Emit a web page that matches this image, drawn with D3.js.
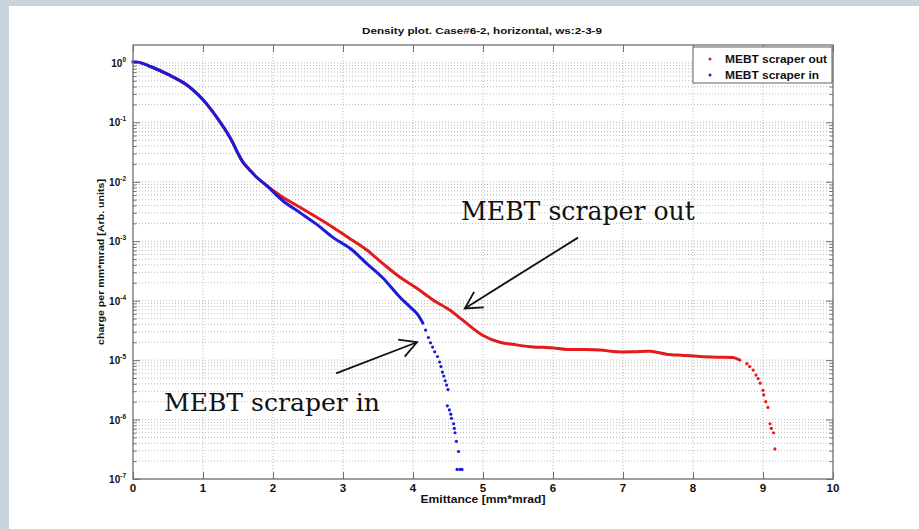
<!DOCTYPE html>
<html>
<head>
<meta charset="utf-8">
<script src="https://cdn.jsdelivr.net/npm/d3@7"></script>
<style>
  html, body { margin: 0; padding: 0; background: #c9d3dc; }
  svg { display: block; }
</style>
</head>
<body>
<svg id="chart" width="919" height="529"></svg>
<script>
// ---- data: charge density vs emittance ----------------------------------
// "MEBT scraper out" (red): densely sampled trace, then the sparse cut-off tail
const outTraceEmit   = [0, 0.1, 0.25, 0.5, 0.75, 1.0, 1.2, 1.4, 1.5, 1.57, 1.67, 1.77, 1.91,
                        2.14, 2.39, 2.63, 2.86, 3.1, 3.34, 3.57, 3.81, 4.06, 4.29, 4.53, 4.71,
                        5.0, 5.24, 5.48, 5.72, 5.96, 6.2, 6.43, 6.67, 6.91, 7.15, 7.39, 7.62,
                        7.86, 8.1, 8.34, 8.58, 8.67];
const outTraceCharge = [1.04, 1.01, 0.87, 0.64, 0.44, 0.24, 0.12, 0.052, 0.030, 0.0215, 0.0157, 0.0118, 0.0086,
                        0.0055, 0.0037, 0.0025, 0.0017, 0.0011, 7.1e-4, 4.2e-4, 2.5e-4, 1.6e-4, 1.02e-4, 6.9e-5, 4.7e-5,
                        2.6e-5, 2.0e-5, 1.8e-5, 1.66e-5, 1.62e-5, 1.51e-5, 1.51e-5, 1.48e-5, 1.38e-5, 1.38e-5, 1.41e-5, 1.26e-5,
                        1.2e-5, 1.15e-5, 1.12e-5, 1.1e-5, 1.0e-5];
const outTailEmit    = [8.77, 8.81, 8.86, 8.90, 8.93, 8.96, 9.0, 9.01, 9.04, 9.07, 9.10, 9.12, 9.15, 9.17];
const outTailCharge  = [8.7e-6, 7.8e-6, 6.8e-6, 5.6e-6, 4.9e-6, 4.1e-6, 3.1e-6, 2.6e-6, 2.0e-6, 1.6e-6,
                        8.5e-7, 7.1e-7, 6.0e-7, 3.2e-7];

// "MEBT scraper in" (blue)
const inTraceEmit    = [0, 0.1, 0.25, 0.5, 0.75, 1.0, 1.2, 1.4, 1.5, 1.57, 1.67, 1.77, 1.91,
                        2.14, 2.39, 2.63, 2.86, 3.1, 3.34, 3.57, 3.81, 3.96, 4.06, 4.14];
const inTraceCharge  = [1.04, 1.01, 0.87, 0.64, 0.44, 0.24, 0.12, 0.052, 0.030, 0.0215, 0.0157, 0.0118, 0.0086,
                        0.0048, 0.0030, 0.0019, 0.00115, 7.6e-4, 4.2e-4, 2.4e-4, 1.15e-4, 7.8e-5, 6.0e-5, 4.2e-5];
const inTailEmit     = [4.18, 4.22, 4.25, 4.28, 4.31, 4.35, 4.38, 4.40, 4.42, 4.44, 4.46, 4.48, 4.50,
                        4.49, 4.52, 4.54, 4.55, 4.58, 4.59, 4.60, 4.62, 4.65, 4.63, 4.67, 4.70];
const inTailCharge   = [3.2e-5, 2.4e-5, 1.95e-5, 1.66e-5, 1.38e-5, 1.15e-5, 9.3e-6, 7.8e-6, 6.3e-6, 5.4e-6, 4.5e-6, 3.8e-6, 3.2e-6,
                        1.7e-6, 1.45e-6, 1.23e-6, 1.05e-6, 8.5e-7, 7.1e-7, 6.0e-7, 4.3e-7, 2.9e-7, 1.45e-7, 1.45e-7, 1.45e-7];

const seriesNames = ["MEBT scraper out", "MEBT scraper in"];
const xTicks = [0, 1, 2, 3, 4, 5, 6, 7, 8, 9, 10];
const yExponents = [0, -1, -2, -3, -4, -5, -6, -7];

// callouts: label, text anchor (emit, charge), arrow tail, arrow head
const callouts = [
  { label: "MEBT scraper out", width: 234, text: [4.686, 2.3e-3],  tail: [6.357, 1.15e-3], head: [4.74, 7.4e-5] },
  { label: "MEBT scraper in",  width: 216, text: [0.443, 1.38e-6], tail: [2.9, 6.0e-6],    head: [4.057, 2.0e-5] }
];

// ---- layout -------------------------------------------------------------
const svg = d3.select("#chart");
const RED = "#e31b1b", BLUE = "#1b1bd9", AX = "#6f6f6f";
const x = d3.scaleLinear().domain([0, 10]).range([133, 833]);
const y = d3.scaleLog().domain([1e-7, 2]).range([479, 45]);
const [x0, x1] = x.range(), [yb, yt] = y.range();

// slide panel
svg.append("rect").attr("x", 9).attr("y", 6).attr("width", 910).attr("height", 523).attr("fill", "#ffffff");

// widen the axis lettering
function stretch(sel, factor) {
  sel.each(function () {
    const w = this.getComputedTextLength();
    d3.select(this).attr("textLength", w * factor).attr("lengthAdjust", "spacingAndGlyphs");
  });
}

// ---- grid ---------------------------------------------------------------
const minor = [];
for (let e = -7; e <= 0; e++) for (let k = 2; k <= 9; k++) { const v = k * Math.pow(10, e); if (v < 2) minor.push(v); }
const major = yExponents.map(e => Math.pow(10, e));

const grid = svg.append("g").attr("stroke", "#a8a8a8").attr("stroke-width", 0.8).attr("stroke-dasharray", "1,2").attr("fill", "none");
grid.selectAll("line.gy").data(major.concat(minor)).join("line")
  .attr("x1", x0).attr("x2", x1).attr("y1", d => y(d)).attr("y2", d => y(d));
grid.selectAll("line.gx").data(xTicks.slice(1, -1)).join("line")
  .attr("x1", d => x(d)).attr("x2", d => x(d)).attr("y1", yt).attr("y2", yb);

// ---- data ---------------------------------------------------------------
const plot = svg.append("g");
const line = d3.line().x(d => x(d[0])).y(d => y(d[1])).curve(d3.curveCatmullRom.alpha(0.5));
const zip = (a, b) => a.map((v, i) => [v, b[i]]);

function drawSeries(traceX, traceY, tailX, tailY, color) {
  plot.append("path").datum(zip(traceX, traceY))
    .attr("d", line).attr("fill", "none").attr("stroke", color)
    .attr("stroke-width", 3).attr("stroke-linejoin", "round").attr("stroke-linecap", "round");
  plot.append("g").selectAll("circle").data(zip(tailX, tailY)).join("circle")
    .attr("cx", d => x(d[0])).attr("cy", d => y(d[1])).attr("r", 1.6).attr("fill", color);
}
drawSeries(outTraceEmit, outTraceCharge, outTailEmit, outTailCharge, RED);
drawSeries(inTraceEmit, inTraceCharge, inTailEmit, inTailCharge, BLUE);

// ---- axes box & ticks ---------------------------------------------------
const axes = svg.append("g");
axes.append("rect").attr("x", x0).attr("y", yt).attr("width", x1 - x0).attr("height", yb - yt)
  .attr("fill", "none").attr("stroke", AX).attr("stroke-width", 1.3);

function yTicks(orient, vals, len) {
  const a = (orient === "left" ? d3.axisLeft(y) : d3.axisRight(y)).tickValues(vals).tickFormat("").tickSize(-len);
  const g = axes.append("g").attr("transform", `translate(${orient === "left" ? x0 : x1},0)`).call(a);
  g.select(".domain").remove();
  g.selectAll("line").attr("stroke", AX).attr("stroke-width", 1);
}
yTicks("left", major, 7); yTicks("left", minor, 3.5);
yTicks("right", major, 7); yTicks("right", minor, 3.5);

function xTickMarks(orient) {
  const a = (orient === "bottom" ? d3.axisBottom(x) : d3.axisTop(x)).tickValues(xTicks).tickFormat("").tickSize(-7);
  const g = axes.append("g").attr("transform", `translate(0,${orient === "bottom" ? yb : yt})`).call(a);
  g.select(".domain").remove();
  g.selectAll("line").attr("stroke", AX).attr("stroke-width", 1);
}
xTickMarks("bottom"); xTickMarks("top");

// tick labels
const font = "'Liberation Sans', Arial, sans-serif";
const xl = svg.append("g").attr("font-family", font).attr("font-weight", "bold").attr("font-size", 10.5).attr("fill", "#111")
  .selectAll("text").data(xTicks).join("text")
  .attr("x", d => x(d)).attr("y", yb + 13).attr("text-anchor", "middle").text(d => d);
stretch(xl, 1.1);

const yl = svg.append("g").attr("font-family", font).attr("font-weight", "bold").attr("fill", "#111")
  .selectAll("text").data(yExponents).join("text")
  .attr("x", x0 - 7).attr("y", d => y(Math.pow(10, d)) + 4).attr("text-anchor", "end");
yl.append("tspan").attr("font-size", 10).text("10");
yl.append("tspan").attr("font-size", 6.5).attr("dy", -5).text(d => d);

// ---- titles -------------------------------------------------------------
svg.append("text").attr("x", 482).attr("y", 33.5).attr("text-anchor", "middle")
  .attr("font-family", font).attr("font-weight", "bold").attr("font-size", 9).attr("fill", "#111")
  .attr("textLength", 240).attr("lengthAdjust", "spacingAndGlyphs")
  .text("Density plot. Case#6-2, horizontal, ws:2-3-9");

svg.append("text").attr("x", (x0 + x1) / 2).attr("y", 503).attr("text-anchor", "middle")
  .attr("font-family", font).attr("font-weight", "bold").attr("font-size", 10).attr("fill", "#111")
  .attr("textLength", 125).attr("lengthAdjust", "spacingAndGlyphs")
  .text("Emittance [mm*mrad]");

svg.append("text").attr("transform", `translate(104,${(yt + yb) / 2}) rotate(-90)`).attr("text-anchor", "middle")
  .attr("font-family", font).attr("font-weight", "bold").attr("font-size", 9.5).attr("fill", "#111")
  .attr("textLength", 166).attr("lengthAdjust", "spacingAndGlyphs")
  .text("charge per mm*mrad [Arb. units]");

// ---- legend -------------------------------------------------------------
const lg = svg.append("g").attr("transform", `translate(693,${yt + 2})`);
lg.append("rect").attr("width", 139).attr("height", 36).attr("fill", "#fff").attr("stroke", AX).attr("stroke-width", 1.1);
[RED, BLUE].forEach((c, i) => {
  lg.append("circle").attr("cx", 17).attr("cy", 12 + i * 16).attr("r", 1.5).attr("fill", c);
  lg.append("text").attr("x", 32).attr("y", 16 + i * 16)
    .attr("font-family", font).attr("font-weight", "bold").attr("font-size", 10).attr("fill", "#111")
    .attr("textLength", i === 0 ? 102 : 94).attr("lengthAdjust", "spacingAndGlyphs")
    .text(seriesNames[i]);
});

// ---- callouts -----------------------------------------------------------
const note = svg.append("g");
callouts.forEach(c => {
  const t = note.append("text").attr("x", x(c.text[0])).attr("y", y(c.text[1]))
    .attr("font-family", "'DejaVu Serif', 'Liberation Serif', serif").attr("font-size", 23).attr("fill", "#111")
    .text(c.label);
  t.attr("font-size", 23 * c.width / t.node().getComputedTextLength());

  const hx = x(c.head[0]), hy = y(c.head[1]), tx = x(c.tail[0]), ty = y(c.tail[1]);
  note.append("line").attr("x1", tx).attr("y1", ty).attr("x2", hx).attr("y2", hy)
    .attr("stroke", "#111").attr("stroke-width", 1.8);
  const ang = Math.atan2(ty - hy, tx - hx), L = 19, spread = 0.5;
  const wing = s => [hx + L * Math.cos(ang + s), hy + L * Math.sin(ang + s)];
  note.append("path").attr("d", d3.line()([wing(spread), [hx, hy], wing(-spread)]))
    .attr("fill", "none").attr("stroke", "#111").attr("stroke-width", 1.8).attr("stroke-linejoin", "miter");
});
</script>
</body>
</html>
